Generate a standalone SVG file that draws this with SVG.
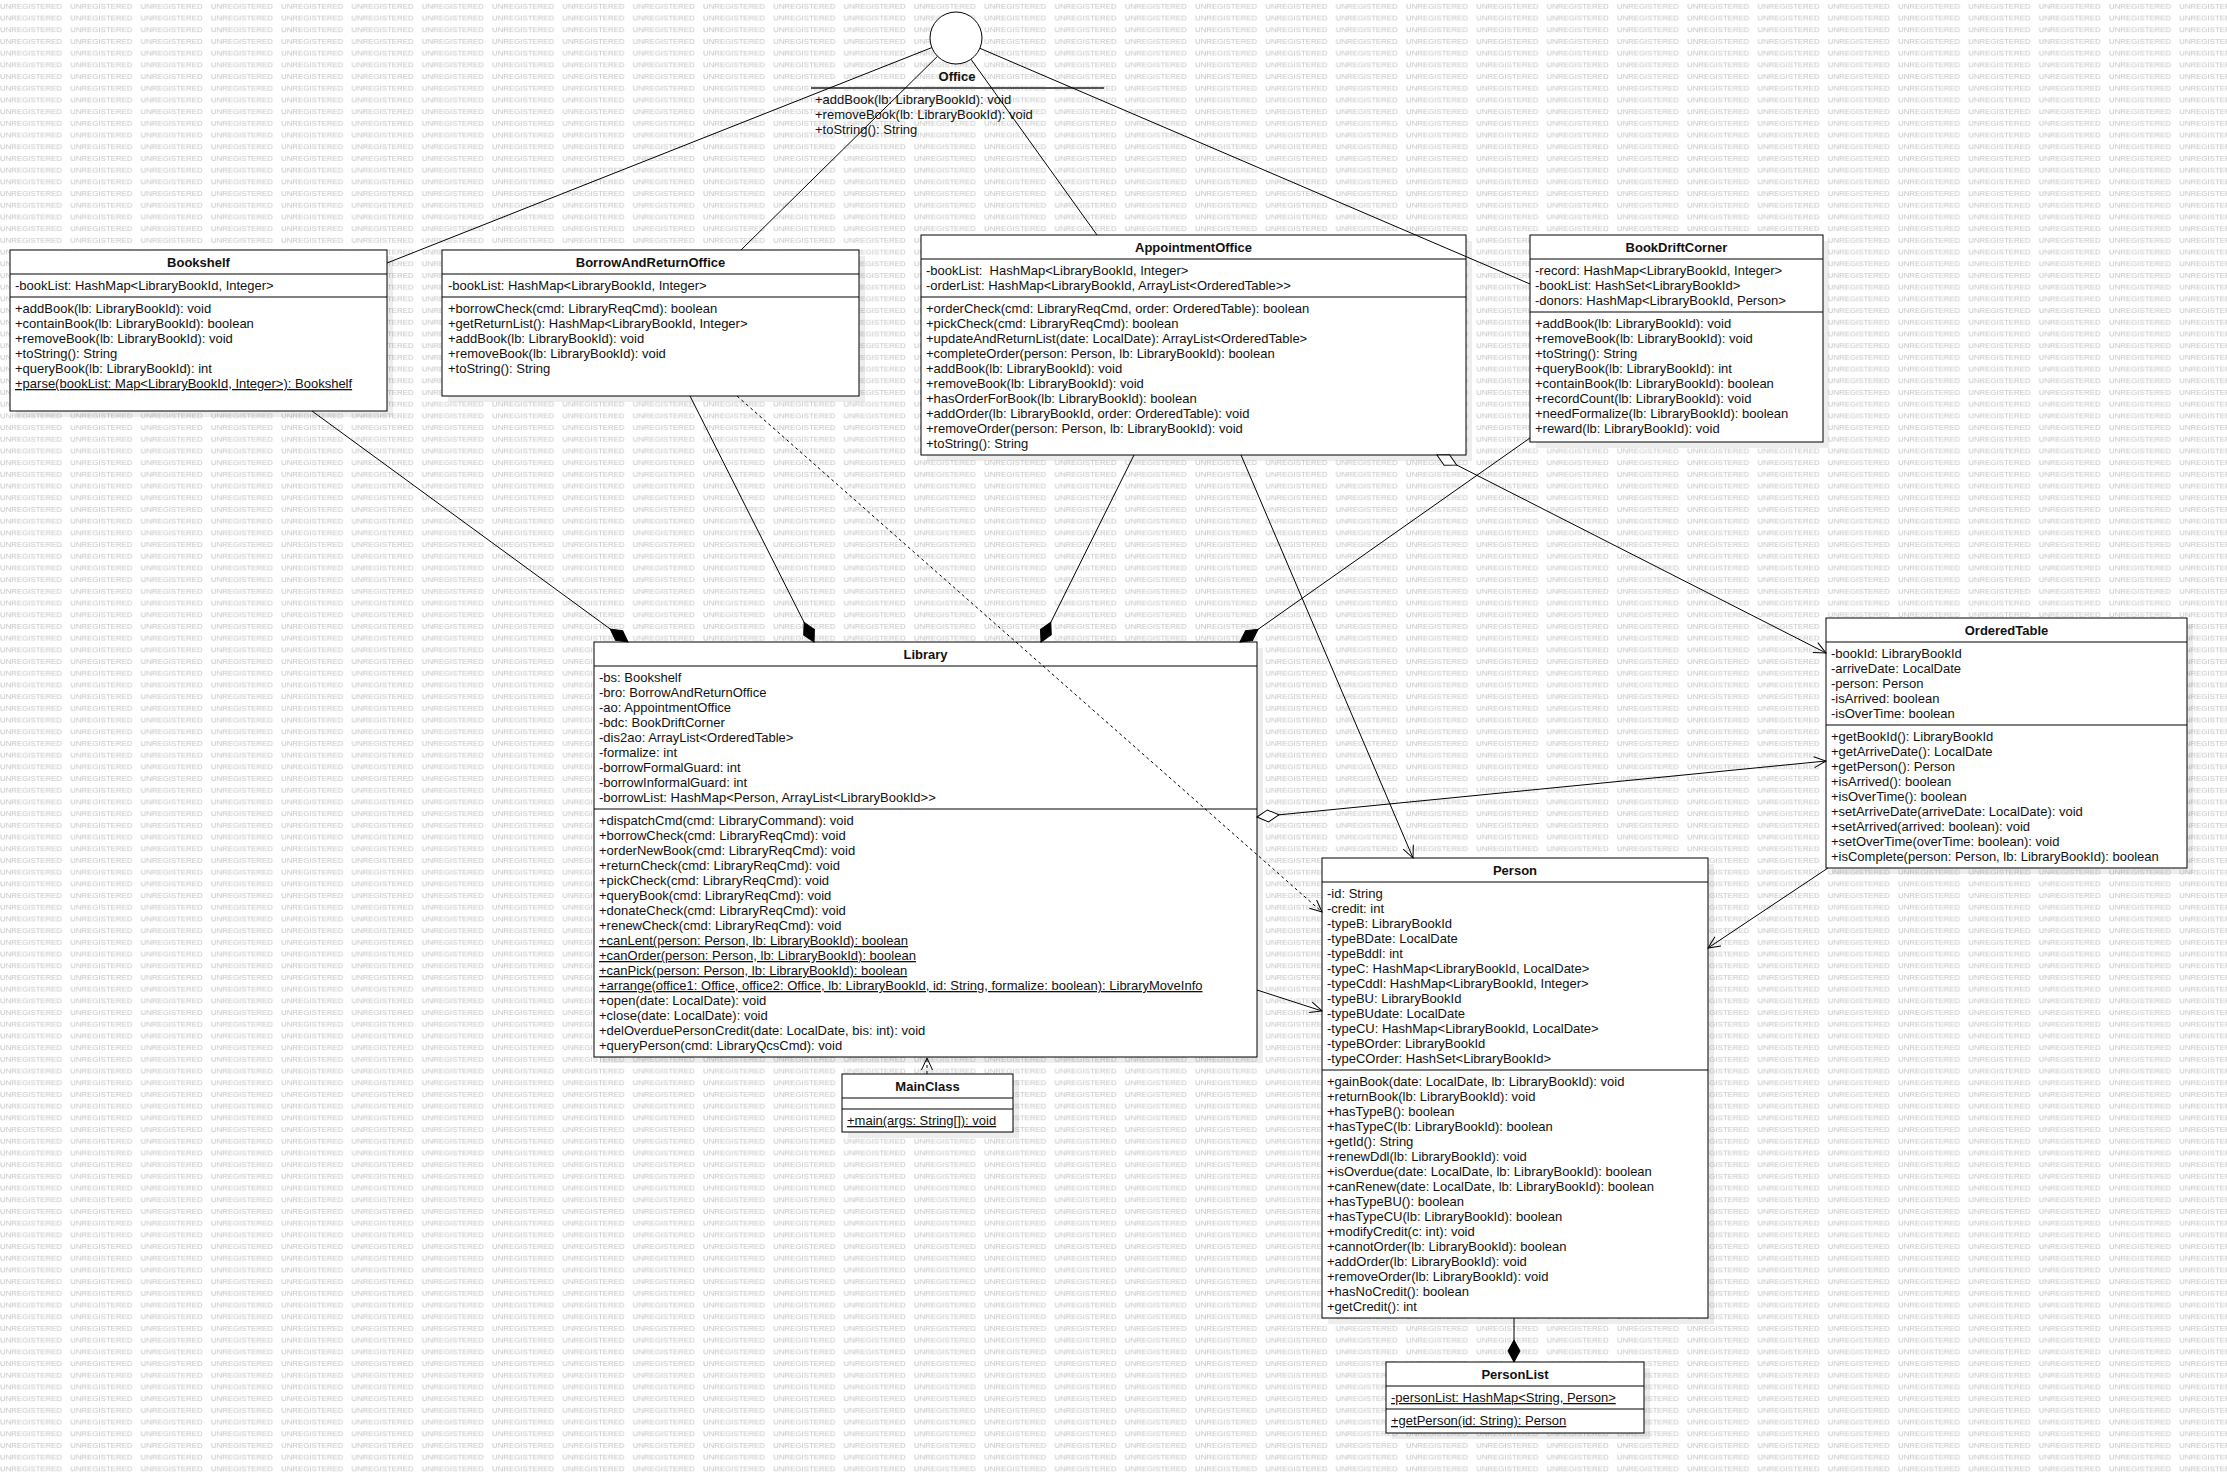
<svg xmlns="http://www.w3.org/2000/svg" width="2227" height="1475" viewBox="0 0 2227 1475">
<style>
.t{font-family:"Liberation Sans",Arial,sans-serif;font-size:13px;fill:#111}
.b{font-weight:bold;text-anchor:middle}
.u{text-decoration:underline}
.box{fill:#fff;stroke:#000;stroke-width:1}
.sh{fill:#000;fill-opacity:0.07}
.dv{stroke:#000;stroke-width:1}
.ln{fill:none;stroke:#000;stroke-width:1}
.dash{stroke-dasharray:3,3}
.wm{font-family:"Liberation Sans",Arial,sans-serif;font-size:7.8px;fill:#c2c2c2}
</style>
<defs>
<pattern id="wmp" patternUnits="userSpaceOnUse" x="0" y="0" width="70.3" height="11.7">
<text class="wm" x="0" y="9">UNREGISTERED</text>
</pattern>
<marker id="arr" markerUnits="userSpaceOnUse" viewBox="-15 -10 20 20" markerWidth="20" markerHeight="20" refX="0" refY="0" orient="auto" overflow="visible">
<path d="M-12,-5.5 L0,0 L-12,5.5" fill="none" stroke="#000" stroke-width="1"/>
</marker>
<marker id="dfill" markerUnits="userSpaceOnUse" viewBox="-25 -10 30 20" markerWidth="30" markerHeight="20" refX="0" refY="0" orient="auto-start-reverse" overflow="visible">
<path d="M0,0 L-11,-6 L-22,0 L-11,6 Z" fill="#000" stroke="#000" stroke-width="1"/>
</marker>
<marker id="dhol" markerUnits="userSpaceOnUse" viewBox="-25 -10 30 20" markerWidth="30" markerHeight="20" refX="0" refY="0" orient="auto-start-reverse" overflow="visible">
<path d="M0,0 L-11,-6 L-22,0 L-11,6 Z" fill="#fff" stroke="#000" stroke-width="1"/>
</marker>
</defs>
<rect x="0" y="0" width="2227" height="1475" fill="#fff"/>
<rect x="0" y="0" width="2227" height="1475" fill="url(#wmp)"/>

<g id="Office">
<circle cx="956" cy="38" r="26" fill="#fff" stroke="#000" stroke-width="1"/>
<text class="t b" x="957" y="81">Office</text>
<line x1="811" y1="88" x2="1104" y2="88" stroke="#555" stroke-width="2"/>
<text class="t" x="815" y="104">+addBook(lb: LibraryBookId): void</text>
<text class="t" x="815" y="119">+removeBook(lb: LibraryBookId): void</text>
<text class="t" x="815" y="134">+toString(): String</text>
</g>

<g id="Bookshelf">
<rect class="sh" x="16" y="256" width="377" height="161"/>
<rect class="box" x="10" y="250" width="377" height="161"/>
<text class="t b" x="198.5" y="267">Bookshelf</text>
<line class="dv" x1="10" y1="274" x2="387" y2="274"/>
<text class="t" x="15" y="290">-bookList: HashMap&lt;LibraryBookId, Integer&gt;</text>
<line class="dv" x1="10" y1="297" x2="387" y2="297"/>
<text class="t" x="15" y="313">+addBook(lb: LibraryBookId): void</text>
<text class="t" x="15" y="328">+containBook(lb: LibraryBookId): boolean</text>
<text class="t" x="15" y="343">+removeBook(lb: LibraryBookId): void</text>
<text class="t" x="15" y="358">+toString(): String</text>
<text class="t" x="15" y="373">+queryBook(lb: LibraryBookId): int</text>
<text class="t u" x="15" y="388">+parse(bookList: Map&lt;LibraryBookId, Integer&gt;): Bookshelf</text>
</g>

<g id="BorrowAndReturnOffice">
<rect class="sh" x="448" y="256" width="417" height="146"/>
<rect class="box" x="442" y="250" width="417" height="146"/>
<text class="t b" x="650.5" y="267">BorrowAndReturnOffice</text>
<line class="dv" x1="442" y1="274" x2="859" y2="274"/>
<text class="t" x="448" y="290">-bookList: HashMap&lt;LibraryBookId, Integer&gt;</text>
<line class="dv" x1="442" y1="297" x2="859" y2="297"/>
<text class="t" x="448" y="313">+borrowCheck(cmd: LibraryReqCmd): boolean</text>
<text class="t" x="448" y="328">+getReturnList(): HashMap&lt;LibraryBookId, Integer&gt;</text>
<text class="t" x="448" y="343">+addBook(lb: LibraryBookId): void</text>
<text class="t" x="448" y="358">+removeBook(lb: LibraryBookId): void</text>
<text class="t" x="448" y="373">+toString(): String</text>
</g>

<g id="AppointmentOffice">
<rect class="sh" x="927" y="241" width="545" height="220"/>
<rect class="box" x="921" y="235" width="545" height="220"/>
<text class="t b" x="1193.5" y="252">AppointmentOffice</text>
<line class="dv" x1="921" y1="259" x2="1466" y2="259"/>
<text class="t" x="926" y="275" style="white-space:pre">-bookList:  HashMap&lt;LibraryBookId, Integer&gt;</text>
<text class="t" x="926" y="290">-orderList: HashMap&lt;LibraryBookId, ArrayList&lt;OrderedTable&gt;&gt;</text>
<line class="dv" x1="921" y1="297" x2="1466" y2="297"/>
<text class="t" x="926" y="313">+orderCheck(cmd: LibraryReqCmd, order: OrderedTable): boolean</text>
<text class="t" x="926" y="328">+pickCheck(cmd: LibraryReqCmd): boolean</text>
<text class="t" x="926" y="343">+updateAndReturnList(date: LocalDate): ArrayList&lt;OrderedTable&gt;</text>
<text class="t" x="926" y="358">+completeOrder(person: Person, lb: LibraryBookId): boolean</text>
<text class="t" x="926" y="373">+addBook(lb: LibraryBookId): void</text>
<text class="t" x="926" y="388">+removeBook(lb: LibraryBookId): void</text>
<text class="t" x="926" y="403">+hasOrderForBook(lb: LibraryBookId): boolean</text>
<text class="t" x="926" y="418">+addOrder(lb: LibraryBookId, order: OrderedTable): void</text>
<text class="t" x="926" y="433">+removeOrder(person: Person, lb: LibraryBookId): void</text>
<text class="t" x="926" y="448">+toString(): String</text>
</g>

<g id="BookDriftCorner">
<rect class="sh" x="1536" y="241" width="293" height="207"/>
<rect class="box" x="1530" y="235" width="293" height="207"/>
<text class="t b" x="1676.5" y="252">BookDriftCorner</text>
<line class="dv" x1="1530" y1="259" x2="1823" y2="259"/>
<text class="t" x="1535" y="275">-record: HashMap&lt;LibraryBookId, Integer&gt;</text>
<text class="t" x="1535" y="290">-bookList: HashSet&lt;LibraryBookId&gt;</text>
<text class="t" x="1535" y="305">-donors: HashMap&lt;LibraryBookId, Person&gt;</text>
<line class="dv" x1="1530" y1="312" x2="1823" y2="312"/>
<text class="t" x="1535" y="328">+addBook(lb: LibraryBookId): void</text>
<text class="t" x="1535" y="343">+removeBook(lb: LibraryBookId): void</text>
<text class="t" x="1535" y="358">+toString(): String</text>
<text class="t" x="1535" y="373">+queryBook(lb: LibraryBookId): int</text>
<text class="t" x="1535" y="388">+containBook(lb: LibraryBookId): boolean</text>
<text class="t" x="1535" y="403">+recordCount(lb: LibraryBookId): void</text>
<text class="t" x="1535" y="418">+needFormalize(lb: LibraryBookId): boolean</text>
<text class="t" x="1535" y="433">+reward(lb: LibraryBookId): void</text>
</g>

<g id="Library">
<rect class="sh" x="600" y="648" width="663" height="415"/>
<rect class="box" x="594" y="642" width="663" height="415"/>
<text class="t b" x="925.5" y="659">Library</text>
<line class="dv" x1="594" y1="666" x2="1257" y2="666"/>
<text class="t" x="599" y="682">-bs: Bookshelf</text>
<text class="t" x="599" y="697">-bro: BorrowAndReturnOffice</text>
<text class="t" x="599" y="712">-ao: AppointmentOffice</text>
<text class="t" x="599" y="727">-bdc: BookDriftCorner</text>
<text class="t" x="599" y="742">-dis2ao: ArrayList&lt;OrderedTable&gt;</text>
<text class="t" x="599" y="757">-formalize: int</text>
<text class="t" x="599" y="772">-borrowFormalGuard: int</text>
<text class="t" x="599" y="787">-borrowInformalGuard: int</text>
<text class="t" x="599" y="802">-borrowList: HashMap&lt;Person, ArrayList&lt;LibraryBookId&gt;&gt;</text>
<line class="dv" x1="594" y1="809" x2="1257" y2="809"/>
<text class="t" x="599" y="825">+dispatchCmd(cmd: LibraryCommand): void</text>
<text class="t" x="599" y="840">+borrowCheck(cmd: LibraryReqCmd): void</text>
<text class="t" x="599" y="855">+orderNewBook(cmd: LibraryReqCmd): void</text>
<text class="t" x="599" y="870">+returnCheck(cmd: LibraryReqCmd): void</text>
<text class="t" x="599" y="885">+pickCheck(cmd: LibraryReqCmd): void</text>
<text class="t" x="599" y="900">+queryBook(cmd: LibraryReqCmd): void</text>
<text class="t" x="599" y="915">+donateCheck(cmd: LibraryReqCmd): void</text>
<text class="t" x="599" y="930">+renewCheck(cmd: LibraryReqCmd): void</text>
<text class="t u" x="599" y="945">+canLent(person: Person, lb: LibraryBookId): boolean</text>
<text class="t u" x="599" y="960">+canOrder(person: Person, lb: LibraryBookId): boolean</text>
<text class="t u" x="599" y="975">+canPick(person: Person, lb: LibraryBookId): boolean</text>
<text class="t u" x="599" y="990">+arrange(office1: Office, office2: Office, lb: LibraryBookId, id: String, formalize: boolean): LibraryMoveInfo</text>
<text class="t" x="599" y="1005">+open(date: LocalDate): void</text>
<text class="t" x="599" y="1020">+close(date: LocalDate): void</text>
<text class="t" x="599" y="1035">+delOverduePersonCredit(date: LocalDate, bis: int): void</text>
<text class="t" x="599" y="1050">+queryPerson(cmd: LibraryQcsCmd): void</text>
</g>

<g id="OrderedTable">
<rect class="sh" x="1832" y="624" width="361" height="250"/>
<rect class="box" x="1826" y="618" width="361" height="250"/>
<text class="t b" x="2006.5" y="635">OrderedTable</text>
<line class="dv" x1="1826" y1="642" x2="2187" y2="642"/>
<text class="t" x="1831" y="658">-bookId: LibraryBookId</text>
<text class="t" x="1831" y="673">-arriveDate: LocalDate</text>
<text class="t" x="1831" y="688">-person: Person</text>
<text class="t" x="1831" y="703">-isArrived: boolean</text>
<text class="t" x="1831" y="718">-isOverTime: boolean</text>
<line class="dv" x1="1826" y1="725" x2="2187" y2="725"/>
<text class="t" x="1831" y="741">+getBookId(): LibraryBookId</text>
<text class="t" x="1831" y="756">+getArriveDate(): LocalDate</text>
<text class="t" x="1831" y="771">+getPerson(): Person</text>
<text class="t" x="1831" y="786">+isArrived(): boolean</text>
<text class="t" x="1831" y="801">+isOverTime(): boolean</text>
<text class="t" x="1831" y="816">+setArriveDate(arriveDate: LocalDate): void</text>
<text class="t" x="1831" y="831">+setArrived(arrived: boolean): void</text>
<text class="t" x="1831" y="846">+setOverTime(overTime: boolean): void</text>
<text class="t" x="1831" y="861">+isComplete(person: Person, lb: LibraryBookId): boolean</text>
</g>

<g id="Person">
<rect class="sh" x="1328" y="864" width="386" height="460"/>
<rect class="box" x="1322" y="858" width="386" height="460"/>
<text class="t b" x="1515" y="875">Person</text>
<line class="dv" x1="1322" y1="882" x2="1708" y2="882"/>
<text class="t" x="1327" y="898">-id: String</text>
<text class="t" x="1327" y="913">-credit: int</text>
<text class="t" x="1327" y="928">-typeB: LibraryBookId</text>
<text class="t" x="1327" y="943">-typeBDate: LocalDate</text>
<text class="t" x="1327" y="958">-typeBddl: int</text>
<text class="t" x="1327" y="973">-typeC: HashMap&lt;LibraryBookId, LocalDate&gt;</text>
<text class="t" x="1327" y="988">-typeCddl: HashMap&lt;LibraryBookId, Integer&gt;</text>
<text class="t" x="1327" y="1003">-typeBU: LibraryBookId</text>
<text class="t" x="1327" y="1018">-typeBUdate: LocalDate</text>
<text class="t" x="1327" y="1033">-typeCU: HashMap&lt;LibraryBookId, LocalDate&gt;</text>
<text class="t" x="1327" y="1048">-typeBOrder: LibraryBookId</text>
<text class="t" x="1327" y="1063">-typeCOrder: HashSet&lt;LibraryBookId&gt;</text>
<line class="dv" x1="1322" y1="1070" x2="1708" y2="1070"/>
<text class="t" x="1327" y="1086">+gainBook(date: LocalDate, lb: LibraryBookId): void</text>
<text class="t" x="1327" y="1101">+returnBook(lb: LibraryBookId): void</text>
<text class="t" x="1327" y="1116">+hasTypeB(): boolean</text>
<text class="t" x="1327" y="1131">+hasTypeC(lb: LibraryBookId): boolean</text>
<text class="t" x="1327" y="1146">+getId(): String</text>
<text class="t" x="1327" y="1161">+renewDdl(lb: LibraryBookId): void</text>
<text class="t" x="1327" y="1176">+isOverdue(date: LocalDate, lb: LibraryBookId): boolean</text>
<text class="t" x="1327" y="1191">+canRenew(date: LocalDate, lb: LibraryBookId): boolean</text>
<text class="t" x="1327" y="1206">+hasTypeBU(): boolean</text>
<text class="t" x="1327" y="1221">+hasTypeCU(lb: LibraryBookId): boolean</text>
<text class="t" x="1327" y="1236">+modifyCredit(c: int): void</text>
<text class="t" x="1327" y="1251">+cannotOrder(lb: LibraryBookId): boolean</text>
<text class="t" x="1327" y="1266">+addOrder(lb: LibraryBookId): void</text>
<text class="t" x="1327" y="1281">+removeOrder(lb: LibraryBookId): void</text>
<text class="t" x="1327" y="1296">+hasNoCredit(): boolean</text>
<text class="t" x="1327" y="1311">+getCredit(): int</text>
</g>

<g id="MainClass">
<rect class="sh" x="848" y="1080" width="171" height="58"/>
<rect class="box" x="842" y="1074" width="171" height="58"/>
<text class="t b" x="927.5" y="1091">MainClass</text>
<line class="dv" x1="842" y1="1098" x2="1013" y2="1098"/>
<line class="dv" x1="842" y1="1109" x2="1013" y2="1109"/>
<text class="t u" x="847" y="1125">+main(args: String[]): void</text>
</g>

<g id="PersonList">
<rect class="sh" x="1392" y="1368" width="258" height="71"/>
<rect class="box" x="1386" y="1362" width="258" height="71"/>
<text class="t b" x="1515" y="1379">PersonList</text>
<line class="dv" x1="1386" y1="1386" x2="1644" y2="1386"/>
<text class="t u" x="1391" y="1402">-personList: HashMap&lt;String, Person&gt;</text>
<line class="dv" x1="1386" y1="1409" x2="1644" y2="1409"/>
<text class="t u" x="1391" y="1425">+getPerson(id: String): Person</text>
</g>

<g id="connectors">
<line class="ln" x1="387" y1="263" x2="931.8" y2="47.6"/>
<line class="ln" x1="741" y1="250" x2="937.5" y2="56.3"/>
<line class="ln" x1="1097" y1="235" x2="970.9" y2="59.2"/>
<line class="ln" x1="1530" y1="284" x2="979.9" y2="48.3"/>
<path class="ln" d="M312,411 L628,642" marker-end="url(#dfill)"/>
<path class="ln" d="M690,396 L814,642" marker-end="url(#dfill)"/>
<path class="ln" d="M1134,455 L1041,642" marker-end="url(#dfill)"/>
<path class="ln" d="M1530,438 L1240,642" marker-end="url(#dfill)"/>
<path class="ln dash" d="M737,396 L1322,912" marker-end="url(#arr)"/>
<path class="ln" d="M1241,455 L1413,858" marker-end="url(#arr)"/>
<path class="ln" d="M1257,990 L1322,1011" marker-end="url(#arr)"/>
<path class="ln" d="M1257,817 L1826,761" marker-start="url(#dhol)" marker-end="url(#arr)"/>
<path class="ln" d="M1437,455 L1826,653" marker-start="url(#dhol)" marker-end="url(#arr)"/>
<path class="ln" d="M1828,868 L1708,948" marker-end="url(#arr)"/>
<path class="ln" d="M1514,1318 L1514,1362" marker-end="url(#dfill)"/>
<path class="ln dash" d="M927,1074 L927,1058" marker-end="url(#arr)"/>
</g>
</svg>
